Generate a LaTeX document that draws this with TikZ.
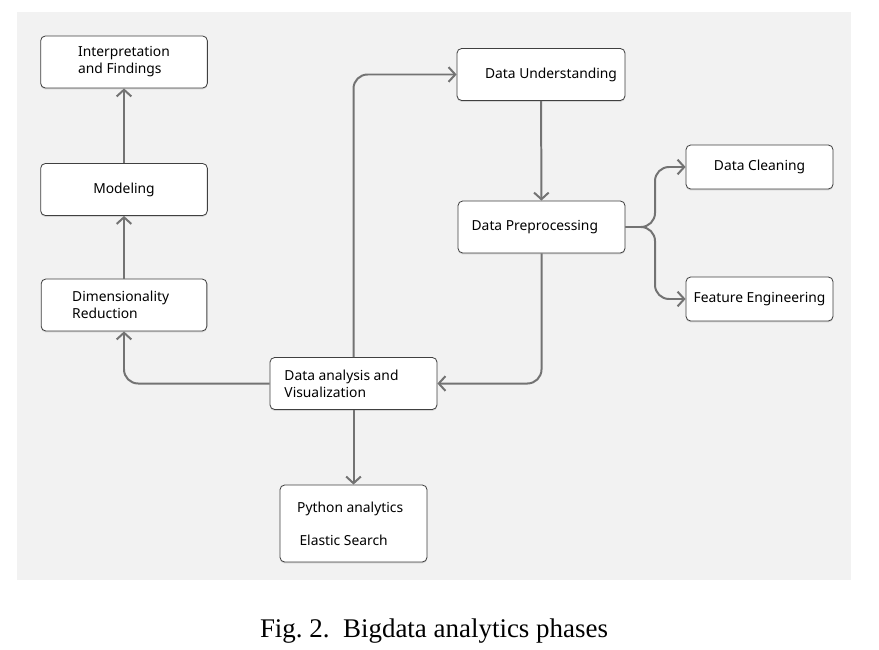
\documentclass[tikz,border=0pt]{standalone}
\usepackage{fontspec}
\setmainfont{Liberation Serif}
\newfontfamily\boxfont{Noto Sans}
\usetikzlibrary{arrows.meta, shadows}

\begin{document}
\begin{tikzpicture}[x=0.03cm, y=-0.03cm,
  phase/.style = {shape=rectangle, rounded corners=4pt, draw=black!75, fill=white,
    line width=0.7pt, align=left, font=\boxfont\fontsize{11.8}{14.5}\selectfont,
    drop shadow={opacity=0.25, shadow xshift=0pt, shadow yshift=-1.2pt},
    minimum height=1.56cm},
  flow/.style = {draw=black!55, line width=1.7pt, rounded corners=12pt,
    -{Straight Barb[length=2mm, width=4.4mm]}}]

  \useasboundingbox (0,0) rectangle (879,649);
  \fill[black!5] (17,12) rectangle (851,580);

  \node[phase, minimum width=5.0cm] (interp) at (124,62) {Interpretation\\and Findings};
  \node[phase, minimum width=5.0cm] (model) at (124,189.5) {Modeling};
  \node[phase, minimum width=4.97cm] (dimred) at (124,305) {Dimensionality\kern0.2cm\\Reduction};
  \node[phase, minimum width=5.04cm] (under) at (541,74.5) {\hspace{0.6cm}Data Understanding};
  \node[phase, minimum width=5.01cm] (prep) at (541.5,227) {Data Preprocessing\hspace{0.4cm}};
  \node[phase, minimum width=4.41cm, minimum height=1.32cm] (clean) at (759.5,167) {Data Cleaning};
  \node[phase, minimum width=4.41cm, minimum height=1.32cm] (feat) at (759.5,299) {Feature Engineering};
  \node[phase, minimum width=5.01cm] (anal) at (353.5,383.5) {Data analysis and\kern0.72cm\\Visualization};
  \node[phase, minimum width=4.41cm, minimum height=2.31cm, font=\boxfont\fontsize{11.8}{28}\selectfont]
    (tools) at (353.5,523.5) {Python analytics\kern0.2cm\\\,Elastic Search};

  \draw[flow] (model) -- (interp);
  \draw[flow] (dimred) -- (model);
  \draw[flow] (anal.west) -| (dimred.south);
  \draw[flow] (anal.north) |- (under.west);
  \draw[flow] (under) -- (prep);
  \draw[flow] (prep.south) |- (anal.east);
  \draw[flow] (prep.east) -- (655,227) |- (clean.west);
  \draw[flow] (prep.east) -- (655,227) |- (feat.west);
  \draw[flow] (anal) -- (tools);

  \node[font=\fontsize{23}{26}\selectfont] (caption) at (434,631) {Fig.~2.\enspace Bigdata analytics phases};
\end{tikzpicture}
\end{document}
